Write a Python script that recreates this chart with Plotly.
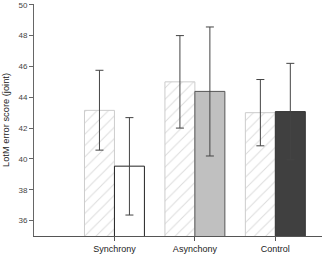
import plotly.graph_objects as go

categories = ["Synchrony", "Asynchony", "Control"]
hatched_vals = [43.15, 45.0, 43.0]
hatched_hi = [45.75, 48.0, 45.15]
hatched_lo = [40.57, 42.0, 40.85]
solid_vals = [39.53, 44.38, 43.07]
solid_hi = [42.68, 48.56, 46.2]
solid_lo = [36.36, 40.19, 39.95]
solid_colors = ["#ffffff", "#c0c0c0", "#404040"]
solid_lines = ["#222222", "#555555", "#333333"]
y_ticks = [36, 38, 40, 42, 44, 46, 48, 50]

font = "Arial, Liberation Sans, sans-serif"

fig = go.Figure()
fig.add_trace(go.Bar(
    x=categories, y=hatched_vals,
    marker=dict(color="white", line=dict(color="#cccccc", width=1),
                pattern=dict(shape="/", fgcolor="#b8b8b8", bgcolor="white", size=8, solidity=0.12)),
    error_y=dict(type="data", symmetric=False,
                 array=[h - v for h, v in zip(hatched_hi, hatched_vals)],
                 arrayminus=[v - l for l, v in zip(hatched_lo, hatched_vals)],
                 color="#444444", thickness=1, width=4),
    showlegend=False,
))
fig.add_trace(go.Bar(
    x=categories, y=solid_vals,
    marker=dict(color=solid_colors, line=dict(color=solid_lines, width=1)),
    error_y=dict(type="data", symmetric=False,
                 array=[h - v for h, v in zip(solid_hi, solid_vals)],
                 arrayminus=[v - l for l, v in zip(solid_lo, solid_vals)],
                 color="#444444", thickness=1, width=4),
    showlegend=False,
))

fig.update_layout(
    width=323, height=256,
    margin=dict(l=34, r=1, t=2, b=20),
    paper_bgcolor="white", plot_bgcolor="white",
    barmode="group", bargap=0.255, bargroupgap=0,
    font=dict(family=font, size=9, color="#222222"),
    xaxis=dict(range=[-1, 2.58], showline=True, linecolor="#555555", linewidth=1,
               ticks="outside", ticklen=4, tickcolor="#555555",
               tickfont=dict(size=9, color="#222222"), showgrid=False, zeroline=False),
    yaxis=dict(range=[35, 50.05], tickvals=y_ticks, showline=True, linecolor="#666666", linewidth=1,
               ticks="outside", ticklen=4, tickcolor="#666666", ticklabeloverflow="allow",
               tickfont=dict(size=8, color="#444444"), showgrid=False, zeroline=False,
               title=dict(text="LotM error score (joint)", font=dict(size=9.3, color="#222222"), standoff=7)),
)

fig.write_html("out.html")
